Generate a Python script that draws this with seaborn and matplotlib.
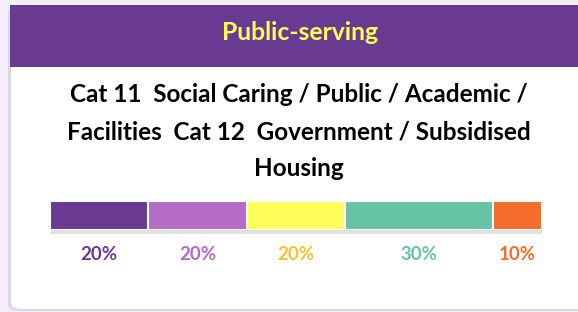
import matplotlib
matplotlib.use("Agg")
import matplotlib.pyplot as plt
import seaborn as sns
import numpy as np
from matplotlib.patches import FancyBboxPatch, Rectangle

# data
categories = ["A", "B", "C", "D", "E"]
shares = [20, 20, 20, 30, 10]
bar_colors = ["#6a3a93", "#b46cc4", "#fffe58", "#66c3a5", "#f36d2d"]
label_colors = ["#6a3a93", "#b46cc4", "#f5c232", "#66c3a5", "#f36d2d"]
title = "Public-serving"
subtitle_lines = ["Cat 11  Social Caring / Public / Academic /",
                  "Facilities  Cat 12  Government / Subsidised",
                  "Housing"]

sns.set_theme(style="white")
plt.rcParams['font.family'] = ['Lato', 'DejaVu Sans']

W, H = 578, 312
fig = plt.figure(figsize=(W / 100, H / 100), dpi=100)
fig.patch.set_facecolor("#f3eef9")

def fx(x):
    return x / W

def fy(y):
    return 1 - y / H

# card shadow + card
fig.patches.append(FancyBboxPatch((fx(8), fy(311)), fx(600), fy(7) - fy(311),
                                  boxstyle="round,pad=0,rounding_size=0.02",
                                  transform=fig.transFigure, facecolor="#ddd6e8",
                                  edgecolor="none", zorder=0))
fig.patches.append(FancyBboxPatch((fx(11), fy(309)), fx(600), fy(5) - fy(309),
                                  boxstyle="round,pad=0,rounding_size=0.02",
                                  transform=fig.transFigure, facecolor="white",
                                  edgecolor="none", zorder=1))
# header
fig.patches.append(Rectangle((fx(10), fy(67)), fx(600), fy(5) - fy(67),
                             transform=fig.transFigure, facecolor="#6a3a93",
                             edgecolor="none", zorder=2))
fig.text(fx(300), fy(33), title, color="#ffff55", fontsize=17.8, fontweight="bold",
         ha="center", va="center", zorder=3)

for i, line in enumerate(subtitle_lines):
    fig.text(fx(299), fy(95 + 37 * i), line, color="black", fontsize=17.5,
             fontweight="bold", ha="center", va="center", zorder=3)

# stacked bar
ax = fig.add_axes([fx(50), fy(230), fx(492), fy(201) - fy(230)])
ax.set_zorder(5)
cum = np.cumsum(shares)
for i in range(len(shares) - 1, -1, -1):
    sns.barplot(x=[cum[i]], y=["bar"], color=bar_colors[i], width=1.0,
                edgecolor="white", linewidth=1.5, saturation=1, ax=ax)
ax.set_xlim(0, 100)
ax.set_ylim(0.5, -0.5)
ax.axis("off")

# shadow under bar
fig.patches.append(Rectangle((fx(51), fy(234)), fx(491), fy(230) - fy(234),
                             transform=fig.transFigure, facecolor="#e0e0e0",
                             edgecolor="none", zorder=3))

starts = cum - np.array(shares)
for s, v, c in zip(starts, shares, label_colors):
    xc = 50 + (s + v / 2) / 100 * 492
    fig.text(fx(xc), fy(254), f"{v}%", color=c, fontsize=13.5, fontweight="bold",
             ha="center", va="center", zorder=6)

fig.savefig("out.png", dpi=100, facecolor=fig.get_facecolor())
